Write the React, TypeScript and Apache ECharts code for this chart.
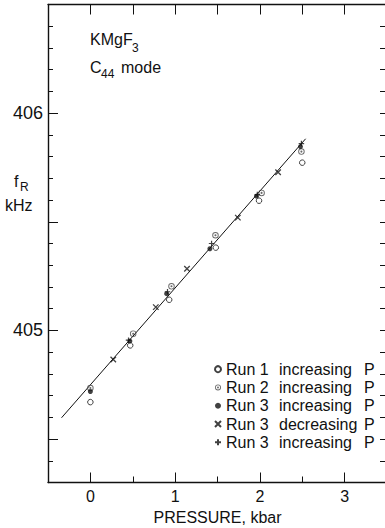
import React, { useEffect, useRef } from "react";
import * as echarts from "echarts";

// ---- data ----
const run1P = [0, 0.47, 0.93, 1.48, 1.99, 2.5];
const run1F = [404.67, 404.931, 405.141, 405.381, 405.597, 405.772];

const run2P = [0, 0.505, 0.957, 1.476, 2.02, 2.49];
const run2F = [404.735, 404.985, 405.203, 405.438, 405.633, 405.823];

const run3IncP = [0, 0.466, 0.9, 1.41, 1.96, 2.479];
const run3IncF = [404.719, 404.951, 405.169, 405.376, 405.618, 405.846];

const run3DecP = [0.27, 0.772, 1.14, 1.74, 2.215];
const run3DecF = [404.866, 405.107, 405.284, 405.519, 405.728];

const run3PlusP = [0.45, 0.91, 1.43, 1.97, 2.49];
const run3PlusF = [404.955, 405.178, 405.4, 405.625, 405.86];

const fitP = [-0.34, 2.54];
const fitF = [404.598, 405.882];

const seriesNames = [
  "Run 1 increasing P",
  "Run 2 increasing P",
  "Run 3 increasing P",
  "Run 3 decreasing P",
  "Run 3 increasing P (+)",
];
const legendRuns = ["Run 1", "Run 2", "Run 3", "Run 3", "Run 3"];
const legendDirs = ["increasing", "increasing", "increasing", "decreasing", "increasing"];

const xLabelTicks = [0, 1, 2, 3];
const xHalfTicks = [0.5, 1.5, 2.5];
const xTopTicks = [0, 0.5, 1, 1.5, 2, 2.5, 3];
const yLabelTicks = [405, 406];
const yMajorTicks = [404.5, 405, 405.5, 406];
const yMinorTicks = [
  404.4, 404.6, 404.7, 404.8, 404.9, 405.1, 405.2, 405.3, 405.4, 405.6, 405.7, 405.8,
  405.9, 406.1, 406.2, 406.3, 406.4,
];
const yRightTicks = [
  404.4, 404.5, 404.6, 404.7, 404.8, 404.9, 405, 405.1, 405.2, 405.3, 405.4, 405.5, 405.6,
  405.7, 405.8, 405.9, 406, 406.1, 406.2, 406.3, 406.4,
];

const FONT = "Liberation Sans, Arial, sans-serif";
const INK = "#111";

const zip = (xs: number[], ys: number[]) => xs.map((x, i) => [x, ys[i]]);

const ringDot =
  "path://M0,-10A10,10,0,1,1,0,10A10,10,0,1,1,0,-10ZM0,-7.2A7.2,7.2,0,1,0,0,7.2A7.2,7.2,0,1,0,0,-7.2ZM0,-3.2A3.2,3.2,0,1,1,0,3.2A3.2,3.2,0,1,1,0,-3.2Z";
const crossPath = "path://M0,0L10,10M10,0L0,10";
const plusPath = "path://M5,0L5,10M0,5L10,5";

export default function App() {
  const ref = useRef<HTMLDivElement>(null);

  useEffect(() => {
    if (!ref.current) return;
    const chart = echarts.init(ref.current, null, { renderer: "svg" });

    const xBase = {
      type: "value",
      min: -0.5,
      max: 3.5,
      splitLine: { show: false },
    };
    const yBase = {
      type: "value",
      min: 404.3,
      max: 406.5,
      splitLine: { show: false },
    };
    const lineStyle = { color: INK, width: 1.4 };

    chart.setOption({
      animation: false,
      backgroundColor: "#fff",
      grid: {
        left: 48,
        top: 4.5,
        width: 339,
        height: 478,
        containLabel: false,
        outerBoundsMode: "none",
      },
      xAxis: [
        {
          ...xBase,
          position: "bottom",
          axisLine: { show: true, onZero: false, lineStyle },
          axisTick: { show: true, inside: true, length: 10, customValues: xLabelTicks, lineStyle: { color: INK, width: 1 } },
          axisLabel: {
            show: true,
            customValues: xLabelTicks,
            margin: 6,
            color: INK,
            fontSize: 16,
            fontFamily: FONT,
          },
          name: "PRESSURE, kbar",
          nameLocation: "middle",
          nameGap: 22,
          nameTextStyle: { color: INK, fontSize: 16, fontFamily: FONT },
        },
        {
          ...xBase,
          position: "bottom",
          axisLine: { show: false, onZero: false },
          axisTick: { show: true, inside: true, length: 6, customValues: xHalfTicks, lineStyle: { color: INK, width: 1 } },
          axisLabel: { show: false },
        },
        {
          ...xBase,
          position: "top",
          axisLine: { show: true, onZero: false, lineStyle },
          axisTick: { show: true, inside: true, length: 10, customValues: xTopTicks, lineStyle: { color: INK, width: 1 } },
          axisLabel: { show: false },
        },
      ],
      yAxis: [
        {
          ...yBase,
          position: "left",
          axisLine: { show: true, onZero: false, lineStyle },
          axisTick: { show: true, inside: true, length: 10, customValues: yMajorTicks, lineStyle: { color: INK, width: 1 } },
          axisLabel: {
            show: true,
            customValues: yLabelTicks,
            margin: 5,
            color: INK,
            fontSize: 18,
            fontFamily: FONT,
          },
        },
        {
          ...yBase,
          position: "left",
          axisLine: { show: false, onZero: false },
          axisTick: { show: true, inside: true, length: 5, customValues: yMinorTicks, lineStyle: { color: INK, width: 1 } },
          axisLabel: { show: false },
        },
        {
          ...yBase,
          position: "right",
          axisLine: { show: false, onZero: false },
          axisTick: { show: true, inside: true, length: 7, customValues: yRightTicks, lineStyle: { color: INK, width: 1 } },
          axisLabel: { show: false },
        },
      ],
      legend: {
        orient: "vertical",
        left: 214,
        top: 360,
        padding: 0,
        itemWidth: 6,
        itemHeight: 6,
        itemGap: 0,
        selectedMode: false,
        data: seriesNames,
        formatter: (name: string) => {
          const i = seriesNames.indexOf(name);
          return `{a|${legendRuns[i]}}{b|${legendDirs[i]}}{c|P}`;
        },
        textStyle: {
          color: INK,
          fontFamily: FONT,
          fontSize: 16,
          lineHeight: 18.3,
          rich: {
            a: { width: 53, fontSize: 16, fontFamily: FONT, color: INK, lineHeight: 18.3 },
            b: { width: 85, fontSize: 16, fontFamily: FONT, color: INK, lineHeight: 18.3 },
            c: { fontSize: 16, fontFamily: FONT, color: INK, lineHeight: 18.3 },
          },
        },
      },
      series: [
        {
          type: "line",
          name: "fit",
          data: zip(fitP, fitF),
          showSymbol: false,
          symbol: "none",
          lineStyle: { color: INK, width: 1 },
          z: 1,
        },
        {
          type: "scatter",
          name: seriesNames[0],
          data: zip(run1P, run1F),
          symbol: "circle",
          symbolSize: 5.5,
          itemStyle: { color: "#fff", borderColor: INK, borderWidth: 1 },
          z: 3,
        },
        {
          type: "scatter",
          name: seriesNames[1],
          data: zip(run2P, run2F),
          symbol: ringDot,
          symbolSize: 6.5,
          itemStyle: { color: "#444", borderWidth: 0 },
          z: 3,
        },
        {
          type: "scatter",
          name: seriesNames[2],
          data: zip(run3IncP, run3IncF),
          symbol: "circle",
          symbolSize: 5,
          itemStyle: { color: INK, borderWidth: 0 },
          z: 4,
        },
        {
          type: "scatter",
          name: seriesNames[3],
          data: zip(run3DecP, run3DecF),
          symbol: crossPath,
          symbolSize: 5.5,
          itemStyle: { color: INK, borderColor: INK, borderWidth: 1.3 },
          z: 4,
        },
        {
          type: "scatter",
          name: seriesNames[4],
          data: zip(run3PlusP, run3PlusF),
          symbol: plusPath,
          symbolSize: 5.5,
          itemStyle: { color: INK, borderColor: INK, borderWidth: 1.2 },
          z: 4,
        },
      ],
      graphic: [
        { type: "text", left: 90, top: 31, style: { text: "KMgF", fontSize: 16, fontFamily: FONT, fill: INK } },
        { type: "text", left: 132, top: 42, style: { text: "3", fontSize: 12, fontFamily: FONT, fill: INK } },
        { type: "text", left: 90, top: 59, style: { text: "C", fontSize: 16, fontFamily: FONT, fill: INK } },
        { type: "text", left: 101, top: 68, style: { text: "44", fontSize: 12, fontFamily: FONT, fill: INK } },
        { type: "text", left: 121, top: 59, style: { text: "mode", fontSize: 16, fontFamily: FONT, fill: INK } },
        { type: "text", left: 14, top: 173, style: { text: "f", fontSize: 16, fontFamily: FONT, fill: INK } },
        { type: "text", left: 20, top: 181, style: { text: "R", fontSize: 12, fontFamily: FONT, fill: INK } },
        { type: "text", left: 5, top: 197, style: { text: "kHz", fontSize: 16, fontFamily: FONT, fill: INK } },
      ],
    });

    return () => chart.dispose();
  }, []);

  return (
    <div
      ref={ref}
      style={{ position: "fixed", left: 0, top: 0, width: 385, height: 528, background: "#fff" }}
    />
  );
}
